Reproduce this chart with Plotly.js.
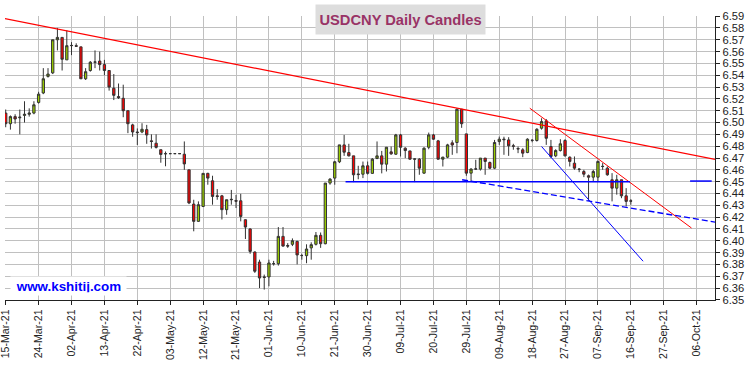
<!DOCTYPE html>
<html>
<head>
<meta charset="utf-8">
<script src="https://cdn.plot.ly/plotly-3.0.1.min.js"></script>
<style>html,body{margin:0;padding:0;background:#fff;}#chart{width:750px;height:366px;}</style>
</head>
<body>
<div id="chart"></div>
<script>
// Daily candles, one per weekday starting 15-Mar-21 (index 0) to 16-Sep-21 (index 133)
const open = [6.508,6.499,6.505,6.504,6.506,6.507,6.508,6.517,6.525,6.539,
6.542,6.570,6.572,6.553,6.565,6.565,6.564,6.537,6.544,6.551,
6.552,6.549,6.544,6.529,6.522,6.5205,6.510,6.498,6.492,6.492,
6.494,6.4845,6.4825,6.477,6.4735,6.4737,6.4737,6.4737,6.4732,6.460,
6.431,6.4164,6.429,6.457,6.4507,6.438,6.438,6.4263,6.4347,6.434,
6.4338,6.4178,6.410,6.3905,6.382,6.3694,6.3694,6.3806,6.3806,6.4037,
6.396,6.397,6.3995,6.3875,6.3874,6.394,6.397,6.4046,6.3975,6.4488,
6.453,6.4668,6.4811,6.4746,6.4718,6.4565,6.4563,6.4634,6.457,6.4696,
6.4718,6.4648,6.4752,6.4732,6.4895,6.4783,6.476,6.469,6.469,6.4572,
6.4791,6.4895,6.4845,6.469,6.4707,6.4828,6.4831,6.5112,6.4904,6.4572,
6.4606,6.4606,6.4699,6.4662,6.4614,6.4839,6.486,6.4853,6.4803,6.478,
6.4769,6.4746,6.4848,6.4848,6.4952,6.5014,6.4797,6.4718,6.4763,6.4848,
6.4707,6.4656,6.4606,6.4586,6.455,6.4538,6.4538,6.463,6.4614,6.4516,
6.4445,6.4516,6.438,6.4338];
const high = [6.511,6.506,6.507,6.511,6.518,6.512,6.518,6.526,6.546,6.546,
6.570,6.580,6.572,6.578,6.568,6.567,6.564,6.546,6.552,6.561,
6.560,6.553,6.544,6.541,6.533,6.532,6.510,6.499,6.495,6.4994,
6.498,6.490,6.490,6.477,6.4755,6.4737,6.4737,6.4737,6.484,6.460,
6.4347,6.4333,6.457,6.4575,6.455,6.4437,6.4388,6.4347,6.443,6.4388,
6.4397,6.418,6.4105,6.391,6.384,6.3714,6.384,6.383,6.4116,6.4116,
6.398,6.402,6.400,6.389,6.397,6.3987,6.4074,6.407,6.4488,6.453,
6.4676,6.4811,6.4895,6.482,6.4718,6.4634,6.467,6.467,6.4699,6.484,
6.476,6.4791,6.4797,6.4904,6.4904,6.4791,6.476,6.4695,6.4699,6.4791,
6.4915,6.4904,6.4853,6.471,6.482,6.485,6.512,6.5115,6.4904,6.4614,
6.4685,6.4699,6.4699,6.467,6.4853,6.4881,6.488,6.4876,6.482,6.4797,
6.4783,6.4867,6.4859,6.4952,6.5036,6.503,6.4853,6.4774,6.4859,6.4859,
6.4713,6.4713,6.4614,6.460,6.456,6.460,6.4679,6.4657,6.4628,6.4572,
6.4558,6.4516,6.4445,6.4352];
const low = [6.496,6.494,6.499,6.490,6.500,6.505,6.507,6.516,6.524,6.538,
6.541,6.561,6.544,6.553,6.557,6.564,6.537,6.536,6.543,6.546,
6.544,6.540,6.527,6.519,6.520,6.5045,6.491,6.488,6.481,6.491,
6.482,6.478,6.478,6.466,6.463,6.4737,6.4737,6.4737,6.460,6.431,
6.408,6.416,6.4285,6.4474,6.4305,6.4347,6.418,6.422,6.4305,6.4277,
6.4164,6.4015,6.389,6.3728,6.360,6.3587,6.3615,6.379,6.379,6.395,
6.394,6.3955,6.380,6.384,6.381,6.384,6.396,6.394,6.397,6.4474,
6.4474,6.4657,6.4718,6.4713,6.4496,6.452,6.453,6.456,6.4566,6.469,
6.457,6.4586,6.4727,6.4727,6.4713,6.4699,6.4685,6.4496,6.4558,6.4566,
6.4774,6.4853,6.4685,6.4628,6.4699,6.4727,6.474,6.4955,6.455,6.4502,
6.460,6.4594,6.4558,6.4606,6.4606,6.4811,6.4727,6.4718,6.477,6.4741,
6.4707,6.4741,6.4833,6.4839,6.494,6.4811,6.4699,6.4707,6.4755,6.4713,
6.4628,6.460,6.458,6.4538,6.4338,6.4502,6.4502,6.460,6.455,6.4333,
6.439,6.436,6.429,6.4305];
const close = [6.499,6.505,6.503,6.5045,6.507,6.508,6.515,6.524,6.537,6.541,
6.570,6.572,6.5535,6.565,6.5652,6.5645,6.537,6.543,6.551,6.5512,
6.549,6.544,6.530,6.523,6.521,6.510,6.499,6.492,6.4915,6.4943,
6.4895,6.484,6.479,6.473,6.4737,6.4737,6.4737,6.4737,6.465,6.432,
6.4164,6.4305,6.457,6.453,6.4375,6.4375,6.4263,6.4347,6.435,6.4335,
6.4206,6.4116,6.391,6.3742,6.3685,6.369,6.3812,6.3806,6.4037,6.3955,
6.3955,6.400,6.388,6.3875,6.393,6.3967,6.4046,6.3975,6.4488,6.4521,
6.4668,6.4811,6.4749,6.4718,6.4558,6.456,6.4634,6.457,6.469,6.4718,
6.4648,6.4791,6.4735,6.4895,6.4791,6.4763,6.469,6.4692,6.4614,6.4783,
6.4895,6.4859,6.469,6.4707,6.4811,6.481,6.5112,6.499,6.4572,6.4606,
6.4608,6.4699,6.4671,6.4614,6.4831,6.4859,6.4855,6.4803,6.480,6.4777,
6.4741,6.4859,6.485,6.4943,6.5008,6.4867,6.4713,6.4763,6.482,6.4718,
6.4671,6.4614,6.4604,6.4563,6.4538,6.4586,6.4671,6.4628,6.4558,6.4445,
6.4516,6.438,6.4333,6.4335];

// x-axis labels (every 7th weekday)
const tickIdx = [0,7,14,21,28,35,42,49,56,63,70,77,84,91,98,105,112,119,126,133,140,147];
const tickLabels = ["15-Mar-21","24-Mar-21","02-Apr-21","13-Apr-21","22-Apr-21","03-May-21","12-May-21","21-May-21",
"01-Jun-21","10-Jun-21","21-Jun-21","30-Jun-21","09-Jul-21","20-Jul-21","29-Jul-21","09-Aug-21",
"18-Aug-21","27-Aug-21","07-Sep-21","16-Sep-21","27-Sep-21","06-Oct-21"];

// Trend lines (day index, price)
const longRedX = [-0.2, 152];
const longRedY = [6.588, 6.468];
const shortRedX = [111.5, 145.9];
const shortRedY = [6.5121, 6.4108];
const supportX = [72.3, 132.8, null, 145.6, 150.2];
const supportY = [6.45, 6.45, null, 6.4505, 6.4505];
const dashedX = [97.1, 152];
const dashedY = [6.4516, 6.415];
const thinBlueX = [114.0, 135.6];
const thinBlueY = [6.4797, 6.3827];

const idx = open.map((_, i) => i);
const FONT = 'Liberation Sans, Arial, sans-serif';

const traces = [
  {
    type: 'candlestick', x: idx, open: open, high: high, low: low, close: close,
    increasing: {line: {color: '#333333', width: 1}, fillcolor: '#99cc00'},
    decreasing: {line: {color: '#333333', width: 1}, fillcolor: '#ff0000'},
    whiskerwidth: 0, hoverinfo: 'skip', showlegend: false
  },
  {type: 'scatter', mode: 'lines', x: longRedX, y: longRedY, line: {color: '#ff0000', width: 1.2}, hoverinfo: 'skip', showlegend: false},
  {type: 'scatter', mode: 'lines', x: shortRedX, y: shortRedY, line: {color: '#ff0000', width: 1}, hoverinfo: 'skip', showlegend: false},
  {type: 'scatter', mode: 'lines', x: supportX, y: supportY, connectgaps: false, line: {color: '#0000ff', width: 1.5}, hoverinfo: 'skip', showlegend: false},
  {type: 'scatter', mode: 'lines', x: dashedX, y: dashedY, line: {color: '#0000ff', width: 1.3, dash: '6px,3px'}, hoverinfo: 'skip', showlegend: false},
  {type: 'scatter', mode: 'lines', x: thinBlueX, y: thinBlueY, line: {color: '#0000ff', width: 1}, hoverinfo: 'skip', showlegend: false}
];

const layout = {
  width: 750, height: 366,
  margin: {l: 5, r: 35, t: 16, b: 66, pad: 0},
  paper_bgcolor: '#ffffff', plot_bgcolor: '#ffffff',
  showlegend: false,
  font: {family: FONT, size: 11, color: '#222222'},
  xaxis: {
    type: 'linear', range: [-0.15, 150.9],
    tickmode: 'array', tickvals: tickIdx, ticktext: tickLabels,
    tickangle: -90, tickfont: {family: FONT, size: 10.6, color: '#222222'},
    ticklabeloverflow: 'allow',
    ticks: 'outside', ticklen: 4, tickcolor: '#222222',
    showgrid: true, gridcolor: '#c0c0c0', gridwidth: 1,
    showline: true, linecolor: '#222222', linewidth: 1.2,
    zeroline: false, rangeslider: {visible: false}, fixedrange: true
  },
  yaxis: {
    side: 'right', range: [6.3499, 6.5901],
    tickmode: 'linear', tick0: 6.35, dtick: 0.01, tickformat: '.2f',
    tickfont: {family: FONT, size: 11.2, color: '#222222'},
    ticklabeloverflow: 'allow',
    ticks: 'outside', ticklen: 4, tickcolor: '#222222',
    showgrid: true, gridcolor: '#c0c0c0', gridwidth: 1,
    showline: true, linecolor: '#222222', linewidth: 1.2,
    zeroline: false, fixedrange: true
  },
  annotations: [
    {
      xref: 'paper', yref: 'paper', x: 0.5575, y: 0.989, xanchor: 'center', yanchor: 'middle',
      text: '<b>USDCNY Daily Candles</b>', showarrow: false,
      font: {family: FONT, size: 14.7, color: '#993366'},
      bgcolor: '#dddddd', width: 163, height: 23, borderpad: 3
    },
    {
      xref: 'paper', yref: 'paper', x: 0.0899, y: 0.0496, xanchor: 'center', yanchor: 'middle',
      text: '<b>www.kshitij.com</b>', showarrow: false,
      font: {family: FONT, size: 13.4, color: '#0000ff'},
      bgcolor: '#ffffff', width: 109, height: 12.3, borderpad: 3
    }
  ]
};

Plotly.newPlot('chart', traces, layout, {displayModeBar: false, staticPlot: true});
</script>
</body>
</html>
